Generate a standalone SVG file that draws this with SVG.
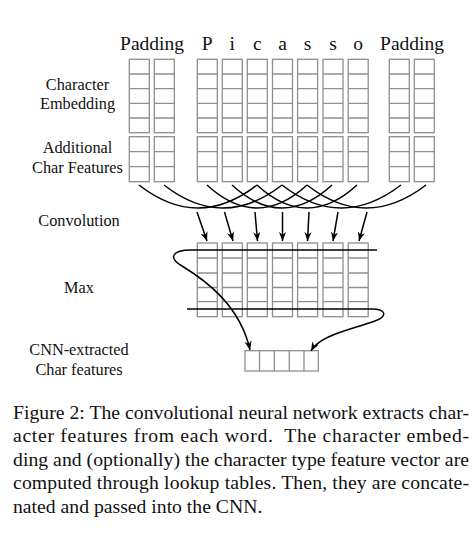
<svg xmlns="http://www.w3.org/2000/svg" width="475" height="547" viewBox="0 0 475 547">
<style>
.bx{fill:none;stroke:#8f8f8f;stroke-width:1.3}
.ln{fill:none;stroke:#000;stroke-width:1.5}
.hd{font-family:"Liberation Serif",serif;font-size:19.5px;fill:#111;text-anchor:middle}
.lb{font-family:"Liberation Serif",serif;font-size:16.3px;fill:#111;text-anchor:middle}
.cp{font-family:"Liberation Serif",serif;font-size:19.7px;fill:#111}
</style>
<defs>
<marker id="ah" viewBox="0 0 10 10" refX="10" refY="5" markerWidth="9" markerHeight="9" markerUnits="userSpaceOnUse" orient="auto">
<path d="M0,1 L10,5 L0,9 L3,5 Z" fill="#000"/>
</marker>
<g id="emb"><rect class="bx" x="0" y="0" width="20" height="73.4"/><path class="bx" d="M0,14.7H20M0,29.4H20M0,44H20M0,58.7H20"/></g>
<g id="add"><rect class="bx" x="0" y="0" width="20" height="45"/><path class="bx" d="M0,15H20M0,30H20"/></g>
<g id="mx"><rect class="bx" x="0" y="0" width="20" height="73.7"/><path class="bx" d="M0,15H20M0,30H20M0,44.5H20M0,58.7H20"/></g>
</defs>

<g id="header">
<text class="hd" x="152" y="50">Padding</text>
<text class="hd" x="207.3" y="50">P</text>
<text class="hd" x="232.3" y="50">i</text>
<text class="hd" x="257.3" y="50">c</text>
<text class="hd" x="282.5" y="50">a</text>
<text class="hd" x="307.5" y="50">s</text>
<text class="hd" x="333" y="50">s</text>
<text class="hd" x="358" y="50">o</text>
<text class="hd" x="412" y="50">Padding</text>
</g>

<g id="labels">
<text class="lb" x="77.5" y="90">Character</text>
<text class="lb" x="77.5" y="108.5">Embedding</text>
<text class="lb" x="77.5" y="153.3">Additional</text>
<text class="lb" x="77.5" y="173.3">Char Features</text>
<text class="lb" x="79" y="225.5">Convolution</text>
<text class="lb" x="79" y="293.3">Max</text>
<text class="lb" x="79" y="355">CNN-extracted</text>
<text class="lb" x="79" y="375">Char features</text>
</g>

<g id="input-columns">
<g id="col-pad1"><use href="#emb" x="129.3" y="59.3"/><use href="#add" x="129.3" y="136.7"/></g>
<g id="col-pad2"><use href="#emb" x="154.3" y="59.3"/><use href="#add" x="154.3" y="136.7"/></g>
<g id="col-P"><use href="#emb" x="197.3" y="59.3"/><use href="#add" x="197.3" y="136.7"/></g>
<g id="col-i"><use href="#emb" x="222.3" y="59.3"/><use href="#add" x="222.3" y="136.7"/></g>
<g id="col-c"><use href="#emb" x="247.3" y="59.3"/><use href="#add" x="247.3" y="136.7"/></g>
<g id="col-a"><use href="#emb" x="272.5" y="59.3"/><use href="#add" x="272.5" y="136.7"/></g>
<g id="col-s1"><use href="#emb" x="297.6" y="59.3"/><use href="#add" x="297.6" y="136.7"/></g>
<g id="col-s2"><use href="#emb" x="323" y="59.3"/><use href="#add" x="323" y="136.7"/></g>
<g id="col-o"><use href="#emb" x="348.2" y="59.3"/><use href="#add" x="348.2" y="136.7"/></g>
<g id="col-pad3"><use href="#emb" x="389.3" y="59.3"/><use href="#add" x="389.3" y="136.7"/></g>
<g id="col-pad4"><use href="#emb" x="414.3" y="59.3"/><use href="#add" x="414.3" y="136.7"/></g>
</g>

<g id="max-columns">
<use href="#mx" x="197.3" y="243"/>
<use href="#mx" x="222.3" y="243"/>
<use href="#mx" x="247.3" y="243"/>
<use href="#mx" x="272.5" y="243"/>
<use href="#mx" x="297.6" y="243"/>
<use href="#mx" x="323" y="243"/>
<use href="#mx" x="348.2" y="243"/>
</g>

<g id="output">
<rect class="bx" x="245" y="350.7" width="73.3" height="20.3"/>
<path class="bx" d="M259.5,350.7V371M274.3,350.7V371M289.3,350.7V371M304,350.7V371"/>
</g>

<g id="connectors">
<path class="ln" d="M139,185 Q198,231 257,185"/>
<path class="ln" d="M164,185 Q223,231 282,185"/>
<path class="ln" d="M207,185 Q257,231 307,185"/>
<path class="ln" d="M232,185 Q282,231 332,185"/>
<path class="ln" d="M257,185 Q307,231 357,185"/>
<path class="ln" d="M282,185 Q341,231 401,185"/>
<path class="ln" d="M307,185 Q366,231 426,185"/>
<path class="ln" d="M197,212 L207,241" marker-end="url(#ah)"/>
<path class="ln" d="M224.5,212 L233,241" marker-end="url(#ah)"/>
<path class="ln" d="M255,212 L257.5,241" marker-end="url(#ah)"/>
<path class="ln" d="M282.5,212 L282.5,241" marker-end="url(#ah)"/>
<path class="ln" d="M309,212 L307.5,241" marker-end="url(#ah)"/>
<path class="ln" d="M338,212 L333,241" marker-end="url(#ah)"/>
<path class="ln" d="M367,212 L359,241" marker-end="url(#ah)"/>
<path class="ln" d="M377,250 L191,250 C172,250 168,258 182,266 C205,280 240,305 250,350" marker-end="url(#ah)"/>
<path class="ln" d="M187,309 L372,309 C386,309 388,316 375,321 C350,330 320,335 311,351" marker-end="url(#ah)"/>
</g>

<g id="caption">
<text class="cp" x="13" y="419" textLength="456" lengthAdjust="spacing">Figure 2: The convolutional neural network extracts char-</text>
<text class="cp" x="13" y="442" textLength="456" lengthAdjust="spacing">acter features from each word.&#160; The character embed-</text>
<text class="cp" x="13" y="465.5" textLength="456" lengthAdjust="spacing">ding and (optionally) the character type feature vector are</text>
<text class="cp" x="13" y="489" textLength="456" lengthAdjust="spacing">computed through lookup tables. Then, they are concate-</text>
<text class="cp" x="13" y="512.5">nated and passed into the CNN.</text>
</g>
</svg>
